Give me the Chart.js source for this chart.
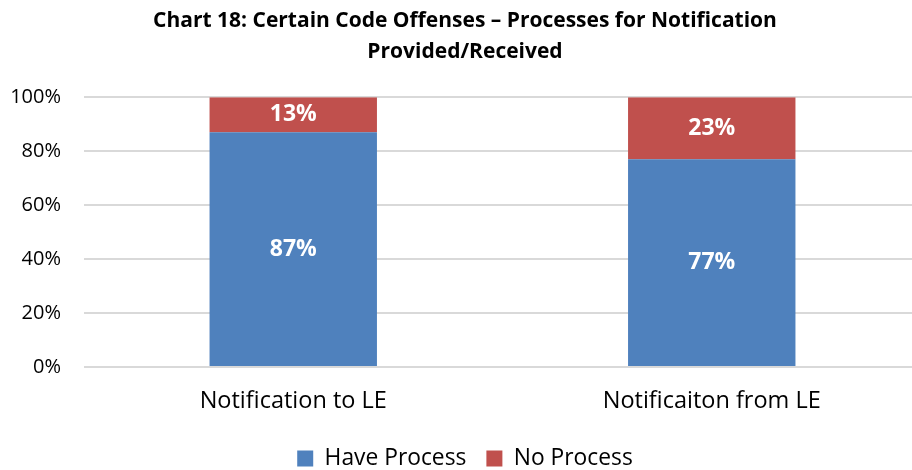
<!DOCTYPE html>
<html><head><meta charset="utf-8">
<script src="https://cdn.jsdelivr.net/npm/chart.js@4/dist/chart.umd.min.js"></script>
<style>html,body{margin:0;padding:0;background:#fff;overflow:hidden}#w{width:930px;height:480px}</style>
</head><body><div id="w"><canvas id="c"></canvas></div>
<script>
const categories = ["Notification to LE", "Notificaiton from LE"];
const haveProcess = [87, 77];
const noProcess = [13, 23];
const seriesNames = ["Have Process", "No Process"];
const yTicks = [0, 20, 40, 60, 80, 100];

const FONT = "'Open Sans', 'Liberation Sans', sans-serif";

const labelPlugin = {
  id: 'barLabels',
  afterDatasetsDraw(chart) {
    const ctx = chart.ctx;
    ctx.save();
    ctx.fillStyle = '#fff';
    ctx.font = "bold 23px " + FONT;
    ctx.textAlign = 'center';
    ctx.textBaseline = 'middle';
    chart.data.datasets.forEach((ds, i) => {
      chart.getDatasetMeta(i).data.forEach((bar, j) => {
        const p = bar.getProps(['x', 'y', 'base'], true);
        ctx.fillText(ds.data[j] + '%', p.x, (p.y + p.base) / 2);
      });
    });
    ctx.restore();
  }
};

new Chart(document.getElementById('c'), {
  type: 'bar',
  data: {
    labels: categories,
    datasets: [
      { label: seriesNames[0], data: haveProcess, backgroundColor: '#4F81BD', borderWidth: 0 },
      { label: seriesNames[1], data: noProcess, backgroundColor: '#C0504D', borderWidth: 0 }
    ]
  },
  options: {
    responsive: true,
    maintainAspectRatio: false,
    animation: false,
    layout: { padding: { left: 9, right: 9, top: 0, bottom: 0 } },
    datasets: { bar: { categoryPercentage: 1, barPercentage: 0.4 } },
    plugins: {
      title: {
        display: true,
        text: ["Chart 18: Certain Code Offenses \u2013 Processes for Notification", "Provided/Received"],
        font: { family: FONT, size: 21, weight: 'bold', lineHeight: 1.48 },
        color: '#000',
        padding: { top: 5, bottom: 30 }
      },
      legend: {
        position: 'bottom',
        labels: {
          font: { family: FONT, size: 22.8 },
          color: '#000',
          boxWidth: 16, boxHeight: 16,
          padding: 20
        }
      },
      tooltip: { enabled: false }
    },
    scales: {
      x: {
        stacked: true,
        grid: { display: false },
        border: { display: false },
        ticks: { font: { family: FONT, size: 23.5 }, color: '#000', padding: 12 }
      },
      y: {
        stacked: true,
        min: 0, max: 100,
        afterBuildTicks: (axis) => { axis.ticks = yTicks.map(v => ({ value: v })); },
        afterFit: (axis) => { axis.width = 75; },
        grid: { color: '#d9d9d9', lineWidth: 2, drawTicks: false },
        border: { display: false },
        ticks: { font: { family: FONT, size: 20 }, color: '#000', padding: 23, callback: v => v + '%' }
      }
    }
  },
  plugins: [labelPlugin]
});
</script>
</body></html>
